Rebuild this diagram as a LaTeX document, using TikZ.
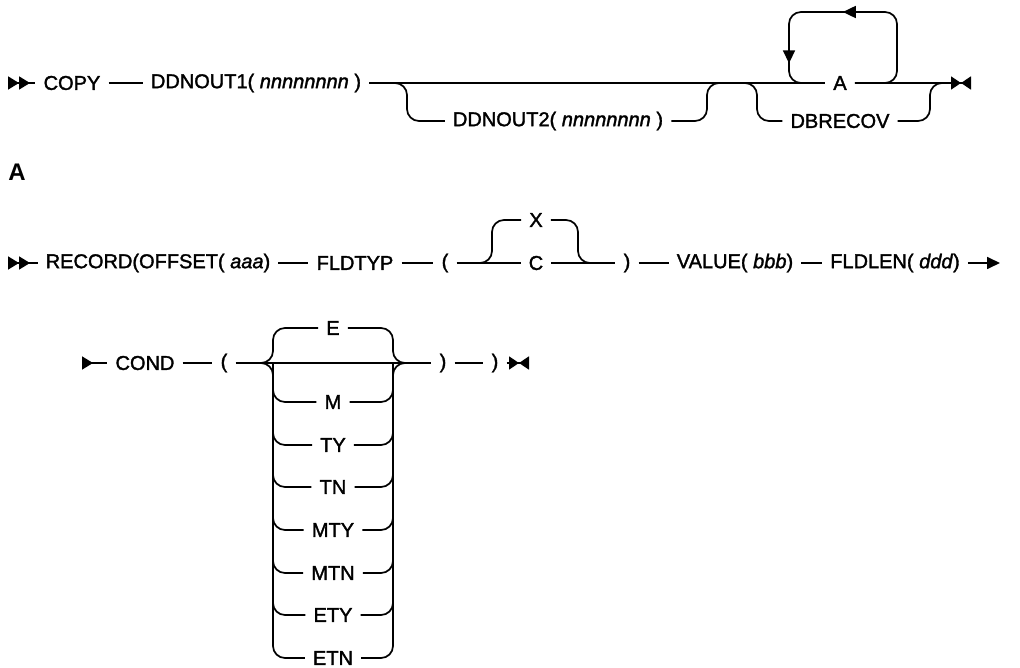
\documentclass[tikz,border=0pt]{standalone}
\usepackage{fontspec}
\setmainfont{Liberation Sans}
\newfontfamily\railfont{Liberation Sans}[FakeBold=1.6]
\usetikzlibrary{arrows.meta,positioning,decorations.markings}

\begin{document}
\begin{tikzpicture}[
    x=1pt, y=-1pt,
    every node/.style={font=\railfont\fontsize{20}{24}\selectfont},
    kw/.style={inner xsep=8pt, inner ysep=0pt},
    rail/.style={line width=1.7pt},
    railbend/.style={rail, rounded corners=12pt},
    railstart/.style={rail, {Triangle[reversed,length=11pt,width=13pt]Triangle[reversed,length=11pt,width=13pt]}-},
    railcont/.style={rail, {Triangle[reversed,length=11pt,width=13pt]}-},
    railgo/.style={rail, -{Triangle[length=13pt,width=12pt]}},
    railend/.style={rail, -{Triangle[length=10pt,width=13pt]Triangle[reversed,length=10pt,width=13pt]}},
    loopback/.style={railbend, postaction={decorate}, decoration={markings,
        mark=at position 157pt with {\arrow{Triangle[length=13pt,width=12pt]}},
        mark=at position 257pt with {\arrow{Triangle[length=13pt,width=12pt]}}}}
  ]
    \fill[white] (0,0) rectangle (1020,668);
    \useasboundingbox (0,0) rectangle (1020,668);

    % first line
    \coordinate (r1s) at (8,83);
    \node[kw] (copy) at (72,83) {COPY};
    \node[kw] (dd1) at (256,83) {DDNOUT1( \textit{nnnnnnnn} )};
    \node[kw] (dd2) at (558,121) {DDNOUT2( \textit{nnnnnnnn} )};
    \node[kw] (a) at (840,83) {A};
    \node[kw] (dbr) at (840,121) {DBRECOV};
    \coordinate (j1) at (395,83);
    \coordinate (k1) at (707,83);
    \coordinate (j2) at (745,83);
    \coordinate (k2) at (930,83);
    \coordinate (lpl) at (789,12);
    \coordinate (lpr) at (897,12);
    \coordinate (r1e) at (971,83);
    \draw[railstart] (r1s) -- (copy.west);
    \draw[rail] (copy) -- (dd1);
    \draw[rail] (dd1) -- (a);
    \draw[railend] (a.east) -- (r1e);
    \draw[railbend] (j1) -- ++(12,0) |- (dd2.west);
    \draw[railbend] (dd2.east) -| (k1) -- ++(12,0);
    \draw[railbend] (j2) -- ++(12,0) |- (dbr.west);
    \draw[railbend] (dbr.east) -| (k2) -- ++(12,0);
    \draw[loopback] (a.east) -| (lpr) -| (lpl |- a) -- ++(12,0);

    % fragment A
    \node[font=\fontsize{24}{28}\selectfont\bfseries] (hda) at (17,172) {A};
    \coordinate (r2s) at (8,263);
    \node[kw] (rec) at (158,263) {RECORD(OFFSET( \textit{aaa})};
    \node[kw] (fld) at (355,263) {FLDTYP};
    \node[kw] (lp2) at (445,263) {(};
    \node[kw] (x) at (536,220) {X};
    \node[kw] (c) at (536,263) {C};
    \node[kw] (rp2) at (627,263) {)};
    \node[kw] (val) at (735,263) {VALUE( \textit{bbb})};
    \node[kw] (len) at (895,263) {FLDLEN( \textit{ddd})};
    \coordinate (j3) at (480,263);
    \coordinate (k3) at (578,263);
    \coordinate (r2e) at (1000,263);
    \draw[railstart] (r2s) -- (rec.west);
    \draw[rail] (rec) -- (fld);
    \draw[rail] (fld) -- (lp2);
    \draw[rail] (lp2) -- (c);
    \draw[rail] (c) -- (rp2);
    \draw[rail] (rp2) -- (val);
    \draw[rail] (val) -- (len);
    \draw[railgo] (len) -- (r2e);
    \draw[railbend] (j3) -- ++(12,0) |- (x.west);
    \draw[railbend] (x.east) -| (k3) -- ++(12,0);

    % continuation
    \coordinate (r3s) at (82,363);
    \node[kw] (cond) at (145,363) {COND};
    \node[kw] (lp3) at (224,363) {(};
    \node[kw] (e) at (333,328) {E};
    \node[kw] (m) at (333,402) {M};
    \node[kw] (ty) at (333,445) {TY};
    \node[kw] (tn) at (333,487) {TN};
    \node[kw] (mty) at (333,530) {MTY};
    \node[kw] (mtn) at (333,573) {MTN};
    \node[kw] (ety) at (333,615) {ETY};
    \node[kw] (etn) at (333,658) {ETN};
    \node[kw] (rp3a) at (443,363) {)};
    \node[kw] (rp3b) at (495,363) {)};
    \coordinate (j4) at (273,363);
    \coordinate (k4) at (393,363);
    \coordinate (r3e) at (529,363);
    \draw[railcont] (r3s) -- (cond.west);
    \draw[rail] (cond) -- (lp3);
    \draw[rail] (lp3) -- (rp3a);
    \draw[rail] (rp3a) -- (rp3b);
    \draw[railend] (rp3b) -- (r3e);
    \draw[railbend] (j4) ++(-12,0) -- (j4) |- (e.west);
    \draw[railbend] (e.east) -| (k4) -- ++(12,0);
    \draw[railbend] (j4) ++(-12,0) -- (j4) |- (etn.west);
    \draw[railbend] (etn.east) -| (k4) -- ++(12,0);
    \foreach \opt in {m,ty,tn,mty,mtn,ety} {
      \draw[railbend] (j4) |- (\opt.west);
      \draw[railbend] (\opt.east) -| (k4);
    }
  \end{tikzpicture}
\end{document}
